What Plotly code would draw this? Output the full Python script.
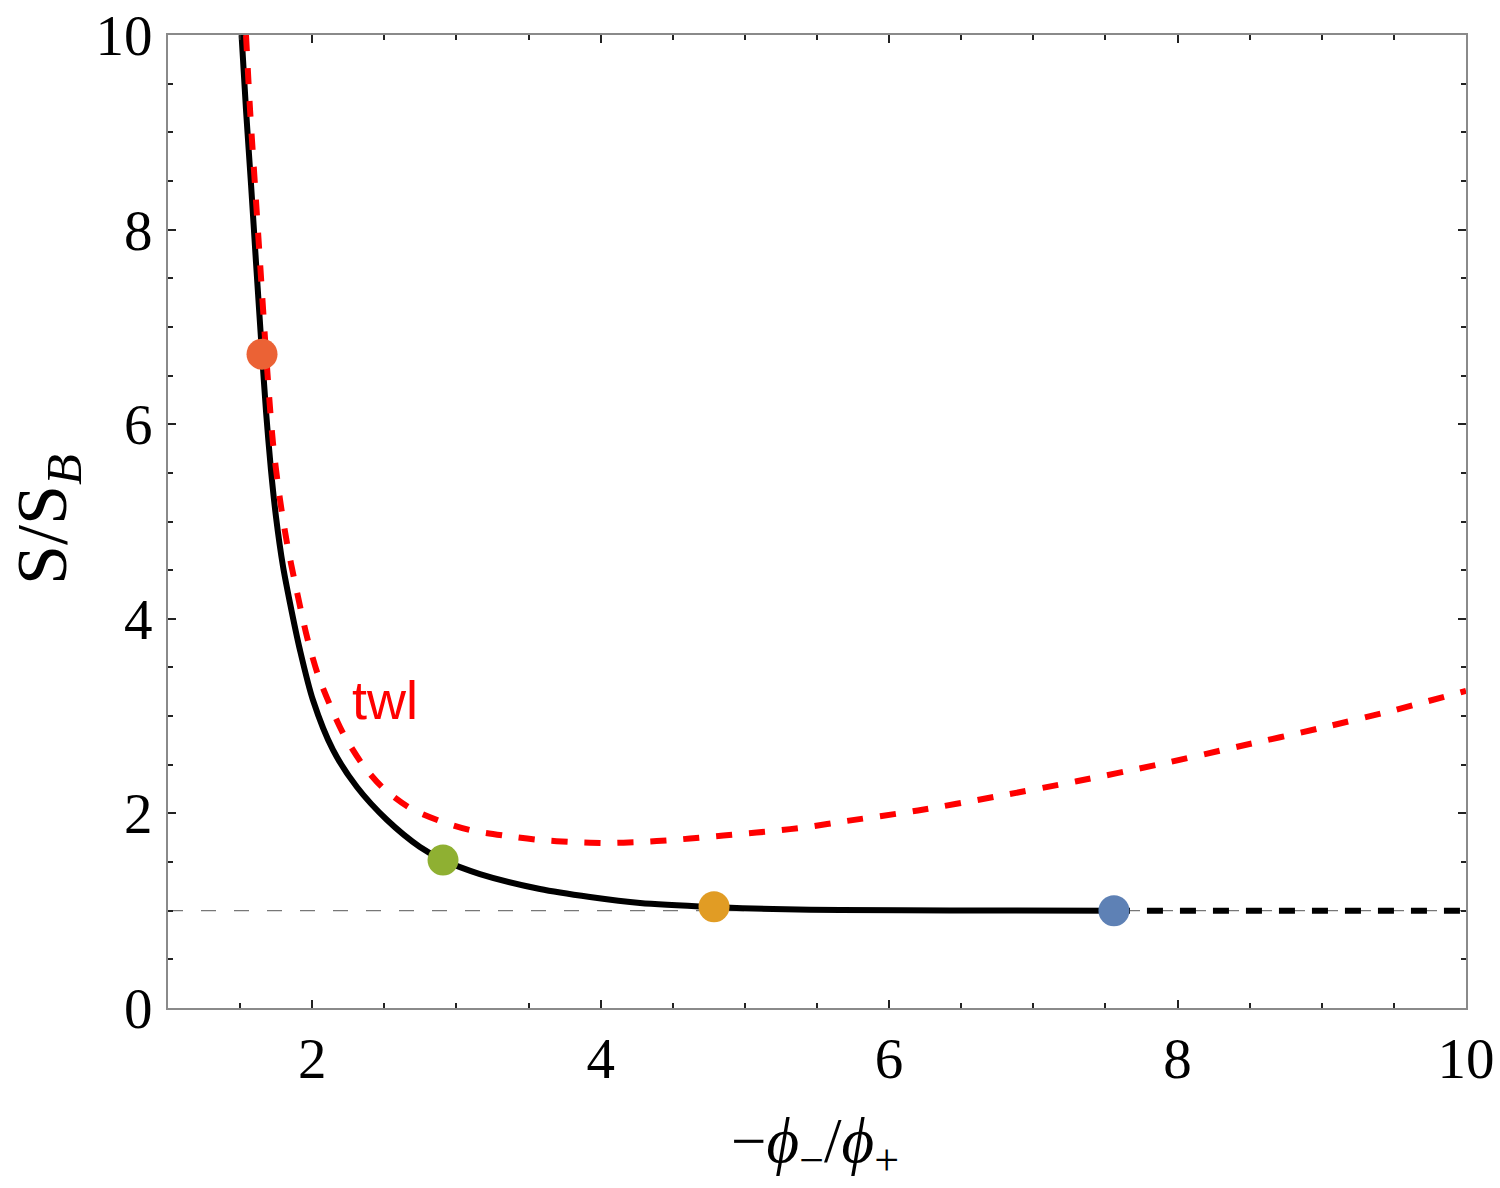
import plotly.graph_objects as go

# Black solid curve (S/S_B vs -phi_-/phi_+)
black_x = [1.510, 1.541, 1.576, 1.610, 1.652, 1.680, 1.714, 1.749, 1.797, 1.846,
           1.915, 2.005, 2.144, 2.310, 2.519, 2.747, 2.907, 3.163, 3.579, 3.926,
           4.273, 4.779, 5.195, 5.660, 6.422, 7.559]
black_y = [10.0, 9.229, 8.458, 7.667, 6.722, 6.125, 5.529, 5.046, 4.543, 4.162,
           3.679, 3.165, 2.652, 2.271, 1.932, 1.655, 1.521, 1.377, 1.223, 1.141,
           1.079, 1.038, 1.017, 1.007, 1.002, 1.0]

# Black dashed continuation
bdash_x = [7.559, 10.0]
bdash_y = [1.0, 1.0]

# Red dashed "twl" curve
red_x = [1.541, 1.569, 1.603, 1.638, 1.680, 1.728, 1.777, 1.825, 1.881, 1.964,
         2.040, 2.123, 2.213, 2.352, 2.491, 2.678, 2.886, 3.094, 3.351, 3.579,
         3.808, 4.044, 4.273, 4.502, 4.737, 4.966, 5.195, 5.431, 5.660, 6.2,
         6.73, 7.3, 7.86, 8.43, 9.0, 9.5, 10.0]
red_y = [10.0, 9.229, 8.458, 7.667, 6.722, 5.807, 5.221, 4.779, 4.368, 3.813,
         3.422, 3.114, 2.826, 2.497, 2.261, 2.055, 1.922, 1.829, 1.768, 1.727,
         1.706, 1.696, 1.706, 1.727, 1.757, 1.788, 1.819, 1.860, 1.912, 2.03,
         2.17, 2.33, 2.50, 2.69, 2.88, 3.06, 3.26]

# Reference line S/S_B = 1
ref_x = [1.0, 10.0]
ref_y = [1.0, 1.0]

# Highlighted points
pt_x = [1.652, 2.907, 4.786, 7.559]
pt_y = [6.72, 1.52, 1.04, 1.00]
pt_colors = ["#EB6235", "#8FB032", "#E19C24", "#5E81B5"]

x_ticks = [2, 4, 6, 8, 10]
y_ticks = [0, 2, 4, 6, 8, 10]

fig = go.Figure()
fig.add_trace(go.Scatter(x=ref_x, y=ref_y, mode="lines",
                         line=dict(color="#777777", width=1.2, dash="15px,18px"),
                         hoverinfo="skip"))
fig.add_trace(go.Scatter(x=black_x, y=black_y, mode="lines",
                         line=dict(color="black", width=6, shape="spline", smoothing=0.8)))
fig.add_trace(go.Scatter(x=bdash_x, y=bdash_y, mode="lines",
                         line=dict(color="black", width=6, dash="16px,17px")))
fig.add_trace(go.Scatter(x=red_x, y=red_y, mode="lines",
                         line=dict(color="#FF0000", width=6, dash="16px,17px",
                                   shape="spline", smoothing=0.8)))
fig.add_trace(go.Scatter(x=pt_x, y=pt_y, mode="markers",
                         marker=dict(color=pt_colors, size=31, line=dict(width=0)),
                         cliponaxis=False))

axis_common = dict(
    showgrid=False, zeroline=False, showline=True, linecolor="#8a8a8a", linewidth=2,
    mirror="ticks", ticks="inside", ticklen=8, tickwidth=2, tickcolor="#222222",
    automargin=False,
    tickfont=dict(family="Liberation Serif", size=57, color="black"),
    minor=dict(dtick=0.5, ticks="inside", ticklen=5, tickwidth=1.5, tickcolor="#222222"),
)

L, R, T, B = 168, 34, 35, 180
W, H = 1500, 1188
plot_w = W - L - R
plot_h = H - T - B

fig.update_layout(
    width=W, height=H,
    margin=dict(l=L, r=R, t=T, b=B),
    plot_bgcolor="white", paper_bgcolor="white",
    showlegend=False,
    xaxis=dict(range=[1, 10], tickvals=x_ticks, ticktext=[str(v) for v in x_ticks],
               ticklabelstandoff=0, **axis_common),
    yaxis=dict(range=[0, 10], tickvals=y_ticks, ticktext=[str(v) for v in y_ticks],
               ticklabelstandoff=2, **axis_common),
    annotations=[
        dict(text="twl", x=2.505, y=3.17, xref="x", yref="y", showarrow=False,
             xanchor="center", yanchor="middle",
             font=dict(family="Liberation Sans", size=54, color="#FF0000")),
        dict(text="−<i>ϕ</i><sub>−</sub>/<i>ϕ</i><sub>+</sub>",
             x=(815 - L) / plot_w, y=-(1146 - (H - B)) / plot_h,
             xref="paper", yref="paper", showarrow=False,
             xanchor="center", yanchor="middle",
             font=dict(family="Liberation Serif", size=63, color="black")),
        dict(text="S/S<sub><i>B</i></sub>",
             x=-(L - 47) / plot_w, y=((H - B) - 520) / plot_h,
             xref="paper", yref="paper", showarrow=False, textangle=-90,
             xanchor="center", yanchor="middle",
             font=dict(family="Liberation Serif", size=72, color="black")),
    ],
)

fig.write_html("out.html")
